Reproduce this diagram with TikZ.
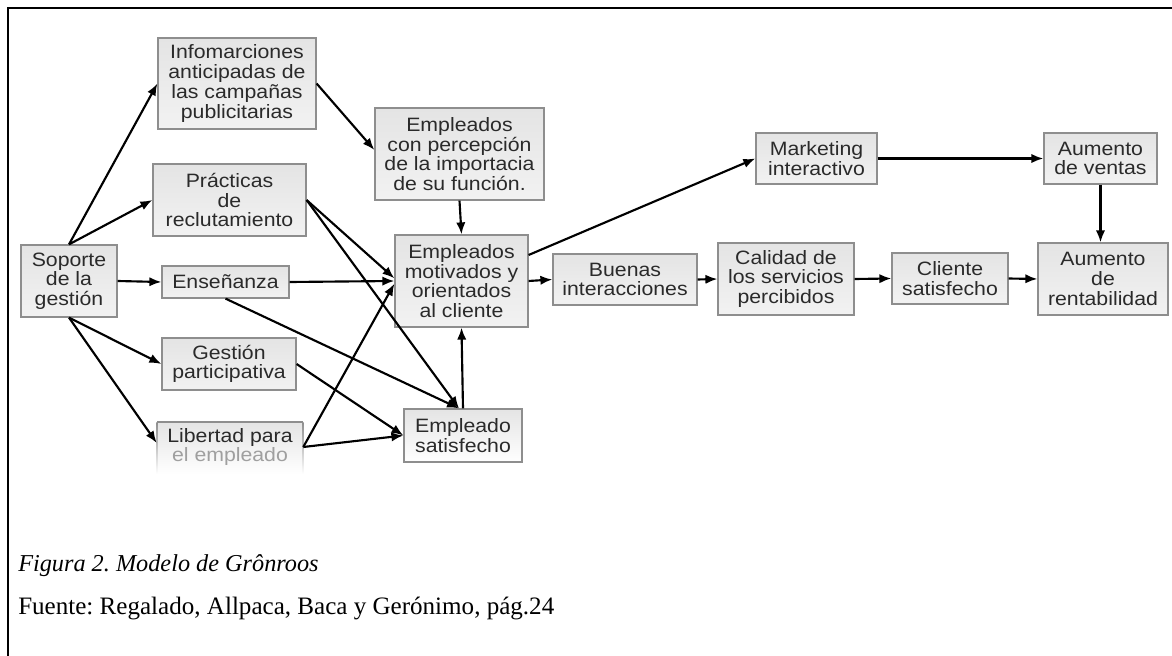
\documentclass[tikz,border=0pt]{standalone}
\usepackage{fontspec}
\setmainfont{Liberation Serif}
\newfontfamily\boxfont[FakeStretch=1.1]{Liberation Sans}
\usetikzlibrary{arrows.meta,calc}
\frenchspacing

\definecolor{boxtop}{HTML}{E4E4E4}
\definecolor{boxbot}{HTML}{F2F2F2}
\definecolor{boxline}{HTML}{8E8E8E}
\definecolor{boxtext}{HTML}{2A2A2A}

\tikzset{
  box/.style 2 args={draw=boxline, line width=0.9pt, top color=boxtop, bottom color=boxbot,
    text=boxtext, align=center, inner sep=0pt,
    font=\boxfont\fontsize{14.5}{14.8}\selectfont,
    minimum width=#1*0.75pt, minimum height=#2*0.75pt},
  link/.style={draw=black, line width=1.6pt, -{Latex[length=9pt,width=7pt]}},
  caption/.style={anchor=west, inner sep=0pt}
}

\begin{document}
\begin{tikzpicture}[x=0.75pt, y=-0.75pt]
\useasboundingbox (0,0) rectangle (1172,656);

% frame round the figure
\draw[line width=1.9pt] (8,656) -- (8,8) -- (1172,8);

% left column
\node[box={158}{91}] (inf)  at (237,83.5)  {Infomarciones\\anticipadas de\\las campañas\\publicitarias};
\node[box={153}{72}] (prac) at (229.5,200) {Prácticas\\de\\reclutamiento};
\node[box={96}{72}]  (sop)  at (69,281)    {Soporte\\de la\\gestión};
\node[box={127}{32}] (ens)  at (225.5,282) {Enseñanza};
\node[box={134}{52}] (ges)  at (229,364)   {Gestión\\participativa};

% faded box at the lower edge
\shade[top color=boxtop, bottom color=white] (157,422) rectangle (303,474);
\draw[boxline, line width=0.9pt] (157,422) -- (303,422);
\shade[top color=boxline, bottom color=white] (156.4,422) rectangle (157.6,474);
\shade[top color=boxline, bottom color=white] (302.4,422) rectangle (303.6,474);
\node[text=boxtext, align=center, inner sep=0pt, font=\boxfont\fontsize{14.5}{14.8}\selectfont,
  minimum width=146*0.75pt, minimum height=50*0.75pt] (lib) at (230,447)
  {Libertad para\\\textcolor{boxtext!45}{el empleado}};

% middle column
\node[box={169}{92}] (perc) at (459.5,154) {Empleados\\con percepción\\de la importacia\\de su función.};
\node[box={133}{92}] (mot)  at (461.5,281) {Empleados\\motivados y\\orientados\\al cliente};
\node[box={118}{53}, bottom color=white] (esat) at (463,435.5) {Empleado\\satisfecho};

% right part
\node[box={144}{51}] (ben)  at (625,279.5)  {Buenas\\interacciones};
\node[box={136}{72}] (cal)  at (786,279)    {Calidad de\\los servicios\\percibidos};
\node[box={121}{51}] (mkt)  at (816.5,158.5) {Marketing\\interactivo};
\node[box={113}{51}] (aven) at (1100.5,158.5) {Aumento\\de ventas};
\node[box={116}{51}] (cli)  at (950,278.5)  {Cliente\\satisfecho};
\node[box={130}{72}] (rent) at (1103,279)   {Aumento\\de\\rentabilidad};

% connectors from the support node
\draw[link] (sop.north) -- (inf.west);
\draw[link] (sop.north) -- (prac.west);
\draw[link] (sop.east) -- (ens.west);
\draw[link] (sop.south) -- (ges.west);
\draw[link] (sop.south) -- ([yshift=3pt]lib.west);

% into the motivated employees
\draw[link] (inf.east) -- ([yshift=3pt]perc.west);
\draw[link] (perc.south) -- (mot.north);
\draw[link] (prac.east) -- ([yshift=2pt]mot.west);
\draw[link] (ens.east) -- (mot.west);
\draw[link] (lib.east) -- ([yshift=-2pt]mot.west);
\draw[link] (esat.north) -- (mot.south);

% into the satisfied employee
\draw[link] (prac.east) -- ([xshift=-3pt]esat.north);
\draw[link] (ens.south) -- ([xshift=-3pt]esat.north);
\draw[link] (ges.east) -- (esat.west);
\draw[link] (lib.east) -- (esat.west);

% chain to profitability
\draw[link] ([yshift=19.5pt]mot.east) -- (mkt.west);
\draw[link] (mot.east) -- (ben.west);
\draw[link] (ben.east) -- (cal.west);
\draw[link] (cal.east) -- (cli.west);
\draw[link] (cli.east) -- (rent.west);
\draw[link] (mkt.east) -- (aven.west);
\draw[link] (aven.south) -- (aven.south |- rent.north);

% caption
\node[caption, font=\fontsize{18.2}{20}\selectfont] (fig) at (18,566) {\textit{Figura 2. Modelo de Grônroos}};
\node[caption, font=\fontsize{18.8}{20}\selectfont] (src) at (18,608) {Fuente: Regalado, Allpaca, Baca y Gerónimo, pág.24};
\end{tikzpicture}
\end{document}
